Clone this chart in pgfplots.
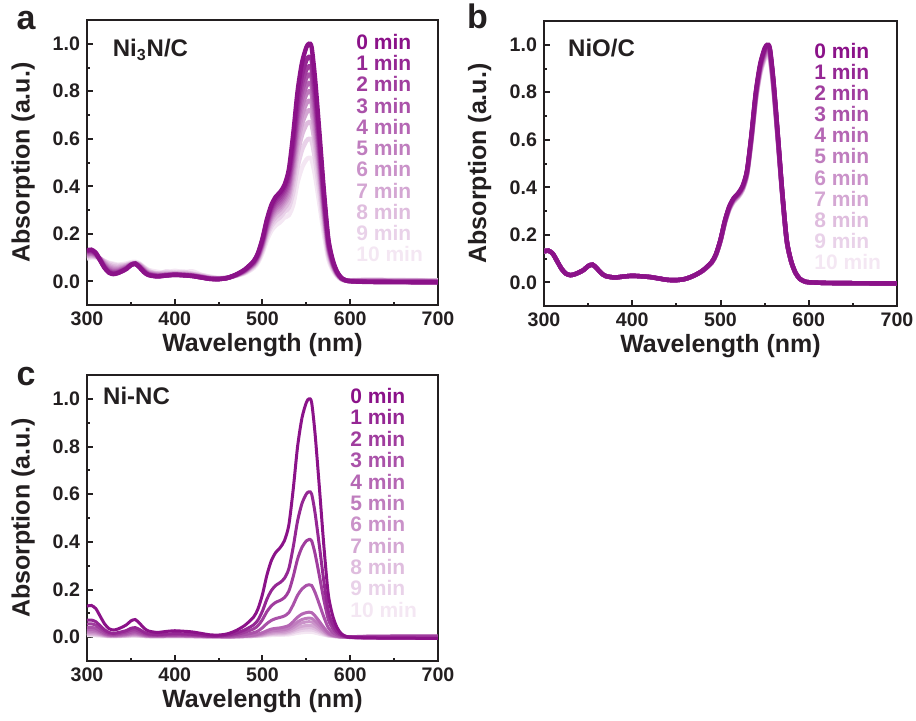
\documentclass[border=0pt]{standalone}
\usepackage{pgfplots}
\pgfplotsset{compat=1.18}
\usepackage{pgfplotstable}
\usepackage{fontspec}
\setmainfont{Liberation Sans}

\definecolor{base}{RGB}{139,18,137}
\definecolor{ink}{RGB}{35,31,32}
\colorlet{m0}{base}
\colorlet{m1}{base!91!white}
\colorlet{m2}{base!82!white}
\colorlet{m3}{base!73!white}
\colorlet{m4}{base!64!white}
\colorlet{m5}{base!55!white}
\colorlet{m6}{base!46!white}
\colorlet{m7}{base!37!white}
\colorlet{m8}{base!28!white}
\colorlet{m9}{base!19!white}
\colorlet{m10}{base!10!white}

% Panel a: Ni3N/C
\pgfplotstableread{
wl c0 c1 c2 c3 c4 c5 c6 c7 c8 c9 c10
300 0.130 0.128 0.125 0.122 0.118 0.115 0.112 0.108 0.105 0.100 0.095
305 0.133 0.130 0.127 0.124 0.120 0.117 0.114 0.110 0.108 0.104 0.100
310 0.120 0.118 0.116 0.114 0.112 0.110 0.108 0.106 0.104 0.102 0.100
315 0.088 0.089 0.090 0.091 0.092 0.093 0.094 0.095 0.096 0.094 0.092
320 0.056 0.058 0.060 0.063 0.066 0.070 0.074 0.078 0.082 0.085 0.085
325 0.036 0.038 0.041 0.045 0.049 0.054 0.059 0.064 0.070 0.075 0.078
330 0.030 0.032 0.035 0.038 0.042 0.047 0.052 0.057 0.063 0.070 0.074
335 0.034 0.035 0.037 0.040 0.043 0.047 0.051 0.056 0.061 0.066 0.070
340 0.042 0.043 0.045 0.047 0.050 0.053 0.056 0.060 0.064 0.068 0.072
345 0.052 0.053 0.054 0.056 0.058 0.060 0.062 0.065 0.068 0.070 0.075
350 0.068 0.068 0.068 0.069 0.069 0.070 0.071 0.072 0.074 0.076 0.080
355 0.074 0.074 0.074 0.074 0.074 0.075 0.075 0.076 0.077 0.078 0.082
360 0.058 0.059 0.060 0.061 0.062 0.064 0.066 0.068 0.070 0.072 0.075
365 0.038 0.040 0.041 0.043 0.045 0.047 0.049 0.052 0.055 0.058 0.060
370 0.026 0.027 0.028 0.030 0.031 0.033 0.035 0.038 0.041 0.045 0.048
380 0.020 0.021 0.022 0.023 0.024 0.026 0.028 0.030 0.033 0.029 0.040
390 0.024 0.024 0.025 0.026 0.026 0.027 0.029 0.031 0.034 0.041 0.036
400 0.027 0.027 0.027 0.028 0.028 0.029 0.030 0.032 0.035 0.036 0.044
410 0.025 0.025 0.026 0.026 0.027 0.028 0.029 0.031 0.034 0.040 0.038
420 0.022 0.022 0.023 0.023 0.024 0.025 0.026 0.028 0.031 0.032 0.042
430 0.016 0.016 0.017 0.017 0.018 0.019 0.020 0.021 0.023 0.026 0.028
440 0.010 0.010 0.011 0.011 0.012 0.012 0.013 0.014 0.016 0.018 0.020
450 0.009 0.009 0.009 0.010 0.010 0.010 0.011 0.011 0.012 0.013 0.014
460 0.014 0.014 0.014 0.014 0.014 0.014 0.014 0.015 0.015 0.016 0.016
470 0.028 0.028 0.027 0.027 0.026 0.026 0.025 0.025 0.024 0.024 0.023
480 0.050 0.049 0.047 0.046 0.044 0.043 0.042 0.040 0.038 0.036 0.033
490 0.085 0.083 0.080 0.078 0.075 0.073 0.071 0.068 0.065 0.061 0.056
495 0.120 0.117 0.113 0.110 0.106 0.103 0.100 0.096 0.091 0.086 0.079
500 0.180 0.175 0.170 0.165 0.160 0.155 0.150 0.145 0.137 0.129 0.119
505 0.260 0.253 0.245 0.238 0.231 0.223 0.216 0.209 0.198 0.187 0.172
510 0.320 0.311 0.302 0.293 0.284 0.275 0.266 0.257 0.244 0.230 0.212
515 0.355 0.345 0.335 0.325 0.315 0.305 0.295 0.285 0.270 0.255 0.235
520 0.375 0.365 0.354 0.343 0.333 0.322 0.312 0.301 0.285 0.269 0.248
525 0.405 0.394 0.382 0.371 0.359 0.348 0.337 0.325 0.308 0.291 0.268
530 0.470 0.450 0.435 0.419 0.405 0.390 0.374 0.358 0.336 0.310 0.278
535 0.620 0.586 0.561 0.539 0.518 0.496 0.471 0.446 0.415 0.372 0.322
540 0.800 0.756 0.724 0.696 0.668 0.640 0.608 0.576 0.536 0.480 0.416
545 0.920 0.869 0.833 0.800 0.768 0.736 0.699 0.662 0.616 0.552 0.478
550 0.985 0.931 0.891 0.857 0.822 0.788 0.749 0.709 0.660 0.591 0.512
553 1.000 0.945 0.905 0.870 0.835 0.800 0.760 0.720 0.670 0.600 0.520
556 0.985 0.931 0.891 0.857 0.822 0.788 0.749 0.709 0.660 0.591 0.512
560 0.850 0.803 0.769 0.740 0.710 0.680 0.646 0.612 0.570 0.510 0.442
565 0.620 0.586 0.561 0.539 0.518 0.496 0.471 0.446 0.415 0.372 0.322
570 0.380 0.359 0.344 0.331 0.317 0.304 0.289 0.274 0.255 0.228 0.198
575 0.180 0.170 0.163 0.157 0.150 0.144 0.137 0.130 0.121 0.108 0.094
580 0.090 0.085 0.081 0.078 0.075 0.072 0.068 0.065 0.060 0.054 0.047
585 0.040 0.038 0.036 0.035 0.033 0.032 0.030 0.029 0.027 0.024 0.021
590 0.014 0.013 0.013 0.012 0.012 0.011 0.011 0.010 0.009 0.008 0.007
595 0.004 0.004 0.004 0.003 0.003 0.003 0.003 0.003 0.003 0.002 0.002
600 0.000 0.000 0.001 0.001 0.001 0.002 0.002 0.003 0.003 0.004 0.004
620 -0.003 -0.002 -0.001 0.000 0.001 0.002 0.003 0.004 0.005 0.006 0.007
650 -0.004 -0.003 -0.002 -0.001 0.000 0.001 0.002 0.003 0.004 0.005 0.006
700 -0.005 -0.004 -0.003 -0.002 -0.001 0.000 0.001 0.002 0.003 0.004 0.004
}\tabA

% Panel b: NiO/C
\pgfplotstableread{
wl c0 c1 c2 c3 c4 c5 c6 c7 c8 c9 c10
300 0.130 0.130 0.130 0.130 0.130 0.130 0.130 0.130 0.130 0.130 0.130
305 0.133 0.133 0.133 0.133 0.133 0.133 0.133 0.133 0.133 0.133 0.133
310 0.120 0.120 0.120 0.120 0.120 0.120 0.120 0.120 0.120 0.120 0.120
315 0.088 0.088 0.088 0.088 0.088 0.088 0.088 0.088 0.088 0.088 0.088
320 0.056 0.056 0.056 0.056 0.056 0.056 0.056 0.056 0.056 0.056 0.056
325 0.036 0.036 0.036 0.036 0.036 0.036 0.036 0.036 0.036 0.036 0.036
330 0.030 0.030 0.030 0.030 0.030 0.030 0.030 0.030 0.030 0.030 0.030
335 0.034 0.034 0.034 0.034 0.034 0.034 0.034 0.034 0.034 0.034 0.034
340 0.042 0.042 0.042 0.042 0.042 0.042 0.042 0.042 0.042 0.042 0.042
345 0.052 0.052 0.052 0.052 0.052 0.052 0.052 0.052 0.052 0.052 0.052
350 0.068 0.068 0.068 0.068 0.068 0.068 0.068 0.068 0.068 0.068 0.068
355 0.074 0.074 0.074 0.074 0.074 0.074 0.074 0.074 0.074 0.074 0.074
360 0.058 0.058 0.058 0.058 0.058 0.058 0.058 0.058 0.058 0.058 0.058
365 0.038 0.038 0.038 0.038 0.038 0.038 0.038 0.038 0.038 0.038 0.038
370 0.026 0.026 0.026 0.026 0.026 0.026 0.026 0.026 0.026 0.026 0.026
380 0.020 0.020 0.020 0.020 0.020 0.020 0.020 0.020 0.020 0.020 0.020
390 0.024 0.024 0.024 0.024 0.024 0.024 0.024 0.024 0.024 0.024 0.024
400 0.027 0.027 0.027 0.027 0.027 0.027 0.027 0.027 0.027 0.027 0.027
410 0.025 0.025 0.025 0.025 0.025 0.025 0.025 0.025 0.025 0.025 0.025
420 0.022 0.022 0.022 0.022 0.022 0.022 0.022 0.022 0.022 0.022 0.022
430 0.016 0.016 0.016 0.016 0.016 0.016 0.016 0.016 0.016 0.016 0.016
440 0.010 0.010 0.010 0.010 0.010 0.010 0.010 0.010 0.010 0.010 0.010
450 0.009 0.009 0.009 0.009 0.009 0.009 0.009 0.009 0.009 0.009 0.009
460 0.014 0.014 0.014 0.014 0.014 0.014 0.014 0.014 0.014 0.014 0.014
470 0.028 0.028 0.028 0.028 0.028 0.028 0.028 0.028 0.028 0.028 0.028
480 0.050 0.050 0.050 0.049 0.049 0.049 0.049 0.048 0.048 0.048 0.048
490 0.085 0.085 0.084 0.084 0.083 0.083 0.082 0.082 0.082 0.081 0.081
495 0.120 0.119 0.119 0.118 0.118 0.117 0.116 0.116 0.115 0.115 0.114
500 0.180 0.179 0.178 0.177 0.176 0.176 0.175 0.174 0.173 0.172 0.171
505 0.260 0.259 0.257 0.256 0.255 0.254 0.252 0.251 0.250 0.248 0.247
510 0.320 0.318 0.317 0.315 0.314 0.312 0.310 0.309 0.307 0.306 0.304
515 0.355 0.353 0.351 0.350 0.348 0.346 0.344 0.343 0.341 0.339 0.337
520 0.375 0.373 0.371 0.369 0.368 0.366 0.364 0.362 0.360 0.358 0.356
525 0.405 0.403 0.401 0.399 0.397 0.395 0.393 0.391 0.389 0.387 0.385
530 0.470 0.468 0.465 0.463 0.461 0.458 0.456 0.454 0.451 0.449 0.447
535 0.620 0.617 0.614 0.611 0.608 0.605 0.601 0.598 0.595 0.592 0.589
540 0.800 0.796 0.792 0.788 0.784 0.780 0.776 0.772 0.768 0.764 0.760
545 0.920 0.915 0.911 0.906 0.902 0.897 0.892 0.888 0.883 0.879 0.874
550 0.985 0.980 0.975 0.970 0.965 0.960 0.955 0.951 0.946 0.941 0.936
553 1.000 0.995 0.990 0.985 0.980 0.975 0.970 0.965 0.960 0.955 0.950
556 0.985 0.980 0.975 0.970 0.965 0.960 0.955 0.951 0.946 0.941 0.936
560 0.850 0.846 0.842 0.837 0.833 0.829 0.825 0.820 0.816 0.812 0.808
565 0.620 0.617 0.614 0.611 0.608 0.605 0.601 0.598 0.595 0.592 0.589
570 0.380 0.378 0.376 0.374 0.372 0.371 0.369 0.367 0.365 0.363 0.361
575 0.180 0.179 0.178 0.177 0.176 0.176 0.175 0.174 0.173 0.172 0.171
580 0.090 0.090 0.089 0.089 0.088 0.088 0.087 0.087 0.086 0.086 0.086
585 0.040 0.040 0.040 0.039 0.039 0.039 0.039 0.039 0.038 0.038 0.038
590 0.014 0.014 0.014 0.014 0.014 0.014 0.014 0.014 0.014 0.014 0.014
595 0.004 0.004 0.004 0.004 0.004 0.004 0.004 0.004 0.004 0.004 0.004
600 0.000 0.000 0.000 0.000 0.000 0.000 0.000 0.000 0.000 0.000 0.000
620 -0.003 -0.003 -0.003 -0.003 -0.003 -0.003 -0.003 -0.003 -0.003 -0.003 -0.003
650 -0.004 -0.004 -0.004 -0.004 -0.004 -0.004 -0.004 -0.004 -0.004 -0.004 -0.004
700 -0.005 -0.005 -0.005 -0.005 -0.005 -0.005 -0.005 -0.005 -0.005 -0.005 -0.005
}\tabB

% Panel c: Ni-NC
\pgfplotstableread{
wl c0 c1 c2 c3 c4 c5 c6 c7 c8 c9 c10
300 0.130 0.071 0.055 0.040 0.031 0.025 0.020 0.016 0.012 0.009 0.006
305 0.133 0.072 0.056 0.041 0.032 0.025 0.020 0.016 0.012 0.009 0.006
310 0.120 0.065 0.050 0.037 0.029 0.023 0.018 0.014 0.011 0.008 0.005
315 0.088 0.048 0.037 0.027 0.021 0.017 0.013 0.011 0.008 0.006 0.004
320 0.056 0.031 0.024 0.017 0.013 0.011 0.008 0.007 0.005 0.004 0.003
325 0.036 0.020 0.015 0.011 0.009 0.007 0.005 0.004 0.003 0.002 0.002
330 0.030 0.016 0.013 0.009 0.007 0.006 0.005 0.004 0.003 0.002 0.001
335 0.034 0.019 0.014 0.011 0.008 0.006 0.005 0.004 0.003 0.002 0.002
340 0.042 0.023 0.018 0.013 0.010 0.008 0.006 0.005 0.004 0.003 0.002
345 0.052 0.028 0.022 0.016 0.012 0.010 0.008 0.006 0.005 0.003 0.002
350 0.068 0.037 0.029 0.021 0.016 0.013 0.010 0.008 0.006 0.005 0.003
355 0.074 0.040 0.031 0.023 0.018 0.014 0.011 0.009 0.007 0.005 0.003
360 0.058 0.032 0.024 0.018 0.014 0.011 0.009 0.007 0.005 0.004 0.003
365 0.038 0.021 0.016 0.012 0.009 0.007 0.006 0.005 0.003 0.003 0.002
370 0.026 0.014 0.011 0.008 0.006 0.005 0.004 0.003 0.002 0.002 0.001
380 0.020 0.011 0.008 0.006 0.005 0.004 0.003 0.002 0.002 0.001 0.001
390 0.024 0.013 0.010 0.007 0.006 0.005 0.004 0.003 0.002 0.002 0.001
400 0.027 0.015 0.011 0.008 0.006 0.005 0.004 0.003 0.002 0.002 0.001
410 0.025 0.014 0.011 0.008 0.006 0.005 0.004 0.003 0.002 0.002 0.001
420 0.022 0.012 0.009 0.007 0.005 0.004 0.003 0.003 0.002 0.001 0.001
430 0.016 0.009 0.007 0.005 0.004 0.003 0.002 0.002 0.001 0.001 0.001
440 0.010 0.005 0.004 0.003 0.002 0.002 0.002 0.001 0.001 0.001 0.000
450 0.009 0.005 0.004 0.003 0.002 0.002 0.001 0.001 0.001 0.001 0.000
460 0.014 0.009 0.006 0.003 0.001 0.001 0.001 0.001 0.001 0.000 0.000
470 0.028 0.017 0.011 0.006 0.003 0.002 0.002 0.001 0.001 0.001 0.001
480 0.050 0.031 0.021 0.011 0.005 0.004 0.003 0.003 0.002 0.002 0.001
490 0.085 0.052 0.035 0.019 0.009 0.007 0.006 0.004 0.003 0.003 0.002
495 0.120 0.073 0.049 0.026 0.013 0.010 0.008 0.006 0.005 0.004 0.002
500 0.180 0.110 0.074 0.040 0.019 0.014 0.012 0.009 0.007 0.005 0.004
505 0.260 0.159 0.107 0.057 0.027 0.021 0.017 0.013 0.010 0.008 0.005
510 0.320 0.195 0.131 0.070 0.034 0.026 0.021 0.016 0.013 0.010 0.006
515 0.355 0.217 0.146 0.078 0.037 0.028 0.023 0.018 0.014 0.011 0.007
520 0.375 0.229 0.154 0.083 0.039 0.030 0.024 0.019 0.015 0.011 0.008
525 0.405 0.247 0.166 0.089 0.043 0.032 0.026 0.020 0.016 0.012 0.008
530 0.470 0.287 0.193 0.103 0.049 0.038 0.031 0.024 0.019 0.014 0.009
535 0.620 0.378 0.254 0.136 0.065 0.050 0.040 0.031 0.025 0.019 0.012
540 0.800 0.488 0.328 0.176 0.084 0.064 0.052 0.040 0.032 0.024 0.016
545 0.920 0.561 0.377 0.202 0.097 0.074 0.060 0.046 0.037 0.028 0.018
550 0.985 0.601 0.404 0.217 0.103 0.079 0.064 0.049 0.039 0.030 0.020
553 1.000 0.610 0.410 0.220 0.105 0.080 0.065 0.050 0.040 0.030 0.020
556 0.985 0.601 0.404 0.217 0.103 0.079 0.064 0.049 0.039 0.030 0.020
560 0.850 0.519 0.349 0.187 0.089 0.068 0.055 0.043 0.034 0.026 0.017
565 0.620 0.378 0.254 0.136 0.065 0.050 0.040 0.031 0.025 0.019 0.012
570 0.380 0.232 0.156 0.084 0.040 0.030 0.025 0.019 0.015 0.011 0.008
575 0.180 0.110 0.074 0.040 0.019 0.014 0.012 0.009 0.007 0.005 0.004
580 0.090 0.055 0.037 0.020 0.009 0.007 0.006 0.005 0.004 0.003 0.002
585 0.040 0.024 0.016 0.009 0.004 0.003 0.003 0.002 0.002 0.001 0.001
590 0.014 0.009 0.006 0.003 0.001 0.001 0.001 0.001 0.001 0.000 0.000
595 0.004 0.002 0.002 0.001 0.001 0.000 0.001 0.000 0.001 0.000 0.001
600 0.000 -0.001 0.002 -0.002 0.002 -0.001 0.001 0.000 0.001 0.000 0.002
620 -0.003 -0.003 0.004 -0.003 0.003 -0.002 0.002 -0.001 0.001 0.000 0.003
650 -0.004 -0.004 0.005 -0.003 0.003 -0.002 0.002 -0.001 0.001 0.000 0.003
700 -0.005 -0.005 0.005 -0.004 0.003 -0.002 0.002 -0.001 0.001 0.000 0.003
}\tabC

\pgfplotsset{
  panel/.style={
    scale only axis, width=175.5pt, height=142.5pt,
    xmin=300, xmax=700, ymin=-0.1, ymax=1.1,
    xtick={300,400,500,600,700},
    ytick={0,0.2,0.4,0.6,0.8,1.0},
    minor xtick={350,450,550,650},
    minor ytick={0.1,0.3,0.5,0.7,0.9},
    tick align=inside, xtick pos=bottom, ytick pos=left,
    major tick length=3pt, minor tick length=1.7pt,
    tick style={line width=1pt, ink},
    axis line style={line width=1.2pt, ink},
    /pgf/number format/assume math mode=true,
    yticklabel style={/pgf/number format/fixed, /pgf/number format/fixed zerofill, /pgf/number format/precision=1},
    ticklabel style={font=\fontsize{9.8}{11}\selectfont\bfseries, text=ink},
    xlabel={Wavelength (nm)}, ylabel={Absorption (a.u.)},
    label style={font=\fontsize{12.5}{14}\selectfont\bfseries, text=ink},
    xlabel style={at={(axis description cs:0.5,-0.14)}, anchor=center},
    ylabel style={at={(axis description cs:-0.182,0.5)}, anchor=center},
  },
}

\begin{document}
\begin{tikzpicture}
\useasboundingbox (0,0) rectangle (458pt,360pt);

% Panel a
\begin{axis}[panel, at={(43.5pt,207.5pt)}, anchor=south west]
\pgfplotsinvokeforeach{10,9,...,0}{
  \addplot[m#1, line width=2.2pt, smooth, tension=0.45] table[x=wl, y=c#1] {\tabA};
}
\pgfplotsinvokeforeach{0,...,10}{
  \node[anchor=base west, inner sep=0pt, text=m#1, font=\fontsize{10.5}{12}\selectfont\bfseries] at (axis cs:606.5,{0.976-0.0894*#1}) {#1 min};
}
\node[anchor=base west, inner sep=0pt, text=ink, font=\fontsize{12}{14}\selectfont\bfseries] at (axis cs:329,0.945) {Ni\textsubscript{3}N/C};
\end{axis}

% Panel b
\begin{axis}[panel, at={(272pt,207pt)}, anchor=south west, width=176.5pt]
\pgfplotsinvokeforeach{10,9,...,0}{
  \addplot[m#1, line width=2.2pt, smooth, tension=0.45] table[x=wl, y=c#1] {\tabB};
}
\pgfplotsinvokeforeach{0,...,10}{
  \node[anchor=base west, inner sep=0pt, text=m#1, font=\fontsize{10.5}{12}\selectfont\bfseries] at (axis cs:606,{0.943-0.089*#1}) {#1 min};
}
\node[anchor=base west, inner sep=0pt, text=ink, font=\fontsize{12}{14}\selectfont\bfseries] at (axis cs:327,0.952) {NiO/C};
\end{axis}

% Panel c
\begin{axis}[panel, at={(43.5pt,29.5pt)}, anchor=south west, height=143pt]
\pgfplotsinvokeforeach{10,9,...,0}{
  \addplot[m#1, line width=1.5pt, smooth, tension=0.45] table[x=wl, y=c#1] {\tabC};
}
\pgfplotsinvokeforeach{0,...,10}{
  \node[anchor=base west, inner sep=0pt, text=m#1, font=\fontsize{10.5}{12}\selectfont\bfseries] at (axis cs:599.7,{0.98-0.0896*#1}) {#1 min};
}
\node[anchor=base west, inner sep=0pt, text=ink, font=\fontsize{12}{14}\selectfont\bfseries] at (axis cs:318,0.975) {Ni-NC};
\end{axis}

\node[font=\fontsize{17}{20}\selectfont\bfseries, text=ink] at (13pt,349.5pt) {a};
\node[font=\fontsize{17}{20}\selectfont\bfseries, text=ink] at (238.75pt,352pt) {b};
\node[font=\fontsize{17}{20}\selectfont\bfseries, text=ink] at (13pt,171.75pt) {c};
\end{tikzpicture}
\end{document}
